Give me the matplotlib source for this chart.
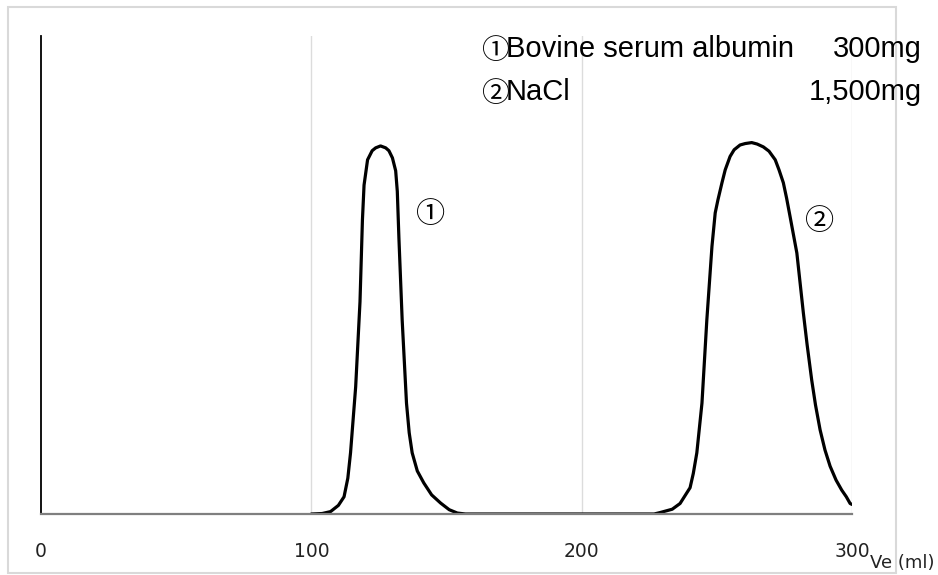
import matplotlib

matplotlib.use("Agg")
import matplotlib.pyplot as plt
from matplotlib.patches import Rectangle

# elution volume (ml) and detector response (arbitrary units, 0-100 = axis height)
ve_ml = [100, 104, 107.1, 110, 112.1, 113.5, 114.5, 116.4, 118.0, 118.9,
         119.5, 120.8, 122.5, 123.8, 125.6, 127.5, 128.7, 130.0, 131.2, 131.8,
         132.4, 133.6, 135.2, 136.2, 137.3, 139.2, 141.6, 144.5, 147.8, 151.0,
         154.0, 157.0,
         226.8, 229.0, 233.5, 236.4, 240.1, 241.3, 242.6, 244.5, 246.3,
         248.2, 249.4, 250.4, 251.9, 253.1, 254.9, 256.4, 258.6, 260.5, 262.9,
         264.9, 267.2, 269.3, 271.6, 273.0, 274.6, 275.8, 277.1, 279.6, 282.0,
         283.4, 285.1, 286.5, 288.2, 290.0, 291.9, 294.1, 296.2, 297.9, 299.3,
         300]
response = [0, 0.1, 0.5, 1.8, 3.6, 7.5, 12.8, 26.6, 44.4, 61.5,
            68.8, 74.1, 76.0, 76.6, 77.0, 76.6, 76.0, 74.5, 71.8, 67.5,
            57.7, 40.6, 23.2, 17.0, 12.8, 9.0, 6.5, 4.0, 2.3, 0.9,
            0.2, 0,
            0, 0.3, 1.0, 2.2, 5.5, 8.5, 12.8, 23.2, 40.6,
            56.0, 63.0, 65.7, 69.3, 72.0, 74.8, 76.2, 77.2, 77.5, 77.7,
            77.4, 76.8, 75.9, 74.1, 72.0, 69.3, 66.1, 62.2, 54.6, 42.1,
            35.4, 28.0, 22.8, 17.6, 13.4, 10.0, 7.1, 5.0, 3.6, 2.2,
            2.0]

x_ticks = [0, 100, 200, 300]
x_label = "Ve (ml)"
sample_marks = ["①", "②"]
sample_names = ["Bovine serum albumin", "NaCl"]
sample_amounts = ["300mg", "1,500mg"]
peak_marks = ["①", "②"]

W, H = 938, 575
fig = plt.figure(figsize=(W / 100, H / 100), dpi=100)
ax = fig.add_axes([41 / W, 1 - 514 / H, (852 - 41) / W, (514 - 36) / H])

ax.plot(ve_ml, response, color="black", linewidth=2.3,
        solid_joinstyle="round", solid_capstyle="round")
ax.set_xlim(0, 300)
ax.set_ylim(0, 100)

for t in x_ticks[1:]:
    ax.axvline(t, color="#dcdcdc", linewidth=1.0, zorder=0)

for side in ["top", "right"]:
    ax.spines[side].set_visible(False)
ax.spines["left"].set_color("black")
ax.spines["left"].set_linewidth(1.3)
ax.spines["bottom"].set_color("#7f7f7f")
ax.spines["bottom"].set_linewidth(1.6)

ax.set_xticks(x_ticks)
ax.set_xticklabels([str(t) for t in x_ticks], family="DejaVu Sans", fontsize=13.5, color="#222222")
ax.tick_params(axis="x", length=0, pad=20)
ax.set_yticks([])

fig.text(934 / W, 1 - 563 / H, x_label, ha="right", va="center",
         family="DejaVu Sans", fontsize=13, color="#222222")

jp = ["Noto Sans CJK JP", "DejaVu Sans"]
for i, (mark, name, amount) in enumerate(zip(sample_marks, sample_names, sample_amounts)):
    y = 1 - (57 + 43 * i) / H
    fig.text(495 / W, 1 - (59 + 43 * i) / H, mark, ha="center", va="baseline", family=jp, fontsize=20)
    fig.text(506 / W, y, name, ha="left", va="baseline", family="Liberation Sans", fontsize=21)
    fig.text(922 / W, y, amount, ha="right", va="baseline", family="Liberation Sans", fontsize=21)

fig.text(431 / W, 1 - 215 / H, peak_marks[0], ha="center", va="center", family=jp, fontsize=21)
fig.text(820 / W, 1 - 222 / H, peak_marks[1], ha="center", va="center", family=jp, fontsize=21)

fig.patches.append(Rectangle((8 / W, 1 - 573 / H), (896 - 8) / W, (573 - 7) / H,
                             transform=fig.transFigure, fill=False,
                             edgecolor="#d9d9d9", linewidth=1.5))

fig.savefig("out.png", dpi=100)
